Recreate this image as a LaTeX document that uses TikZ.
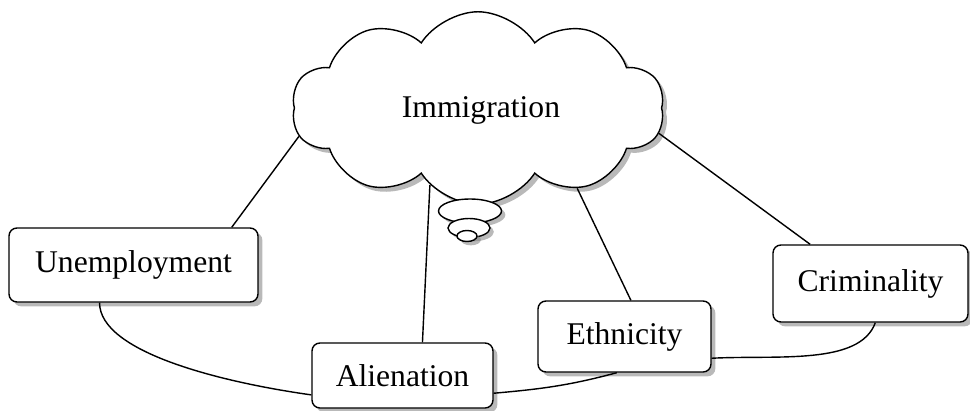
\documentclass[tikz,border=0pt]{standalone}
\usepackage{fontspec}
\setmainfont{Liberation Serif}
\usepackage{tikz}
\usetikzlibrary{shapes.symbols,shapes.geometric,shadows}
\tikzstyle{topic} = [draw=black, fill=white, thick, rounded corners=4.5pt, font=\fontsize{18}{20}\selectfont, drop shadow={shadow xshift=2.5pt, shadow yshift=-2.5pt, opacity=0.55}]
\tikzstyle{bubble} = [ellipse, draw=black, fill=white, thick, inner sep=0pt, drop shadow={shadow xshift=2.2pt, shadow yshift=-2.2pt, opacity=0.55}]

\begin{document}
\begin{tikzpicture}[x=0.02cm, y=-0.02cm]
  \useasboundingbox (0,0) rectangle (970,410);

  \node[cloud, cloud puffs=10, cloud puff arc=115, aspect=2.1, draw=black, fill=white, thick,
        minimum width=7.45cm, minimum height=3.85cm,
        drop shadow={shadow xshift=2.5pt, shadow yshift=-2.5pt, opacity=0.55}] (imm) at (478,108) {};
  \node (immtxt) at (481,110) {\fontsize{18}{20}\selectfont Immigration};
  \node[bubble, minimum width=1.26cm, minimum height=0.48cm] (b1) at (470,211) {};
  \node[bubble, minimum width=0.84cm, minimum height=0.38cm] (b2) at (469,228) {};
  \node[bubble, minimum width=0.4cm, minimum height=0.22cm] (b3) at (467,236) {};

  \node[topic, minimum width=4.98cm, minimum height=1.48cm] (unemp) at (133.5,265) {Unemployment};
  \node[topic, minimum width=3.62cm, minimum height=1.3cm] (alien) at (402.5,375.5) {Alienation};
  \node[topic, minimum width=3.46cm, minimum height=1.42cm] (ethn) at (624.5,336.5) {Ethnicity};
  \node[topic, minimum width=3.9cm, minimum height=1.54cm] (crim) at (870.5,283.5) {Criminality};

  \draw[thick] (imm.189) -- (unemp.21);
  \draw[thick] (imm.238) -- (alien.59);
  \draw[thick] (imm.321) -- (ethn.80);
  \draw[thick] (imm.352) -- (crim.147);

  \draw[thick] (unemp.228) to[out=-90, in=172, out looseness=0.55, in looseness=1] (alien.192);
  \draw[thick] (alien.349) to[out=5, in=195] (ethn.258);
  \draw[thick] (ethn.346) to[out=3, in=250, in looseness=0.7] (crim.277);

\end{tikzpicture}
\end{document}
